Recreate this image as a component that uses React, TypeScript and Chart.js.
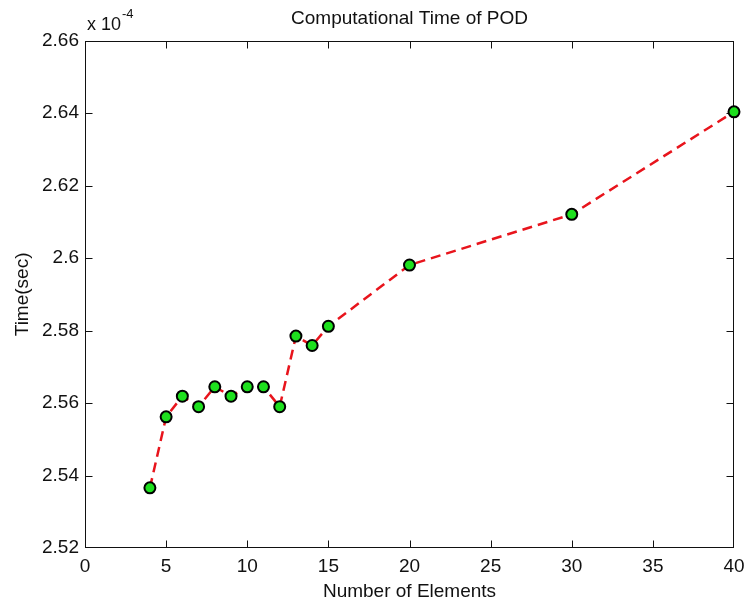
import React, { useEffect, useRef } from "react";
import { Chart, registerables } from "chart.js";

Chart.register(...registerables);

// ---- data ----
const elements = [4, 5, 6, 7, 8, 9, 10, 11, 12, 13, 14, 15, 20, 30, 40];
const timeValues = [
  2.5366, 2.5562, 2.5619, 2.559, 2.5645, 2.5619, 2.5645, 2.5645, 2.559,
  2.5785, 2.5759, 2.5812, 2.5981, 2.6121, 2.6404,
];
const xTickValues = [0, 5, 10, 15, 20, 25, 30, 35, 40];
const yTickValues = [2.52, 2.54, 2.56, 2.58, 2.6, 2.62, 2.64, 2.66];
const chartTitle = "Computational Time of POD";
const xTitle = "Number of Elements";
const yTitle = "Time(sec)";
const exponentBase = "x 10";
const exponentPower = "-4";

const FONT = "'Liberation Sans', Arial, Helvetica, sans-serif";

const framePlugin = {
  id: "matlabFrame",
  beforeDatasetsDraw(chart: any) {
    const { ctx, chartArea, scales } = chart;
    const l = Math.round(chartArea.left) + 0.5;
    const r = Math.round(chartArea.right) - 0.5;
    const t = Math.round(chartArea.top) + 0.5;
    const b = Math.round(chartArea.bottom) - 0.5;
    const len = 7;
    ctx.save();
    ctx.strokeStyle = "#111";
    ctx.lineWidth = 1;
    ctx.strokeRect(l, t, r - l, b - t);
    ctx.beginPath();
    scales.x.ticks.forEach((tk: any) => {
      const px = Math.round(scales.x.getPixelForValue(tk.value)) + 0.5;
      if (px <= l + 1 || px >= r - 1) return;
      ctx.moveTo(px, b);
      ctx.lineTo(px, b - len);
      ctx.moveTo(px, t);
      ctx.lineTo(px, t + len);
    });
    scales.y.ticks.forEach((tk: any) => {
      const py = Math.round(scales.y.getPixelForValue(tk.value)) + 0.5;
      if (py <= t + 1 || py >= b - 1) return;
      ctx.moveTo(l, py);
      ctx.lineTo(l + len, py);
      ctx.moveTo(r, py);
      ctx.lineTo(r - len, py);
    });
    ctx.stroke();
    ctx.restore();
  },
  afterDraw(chart: any) {
    const { ctx, chartArea } = chart;
    ctx.save();
    ctx.fillStyle = "#111";
    ctx.textBaseline = "alphabetic";
    ctx.textAlign = "left";
    ctx.font = `18px ${FONT}`;
    const x0 = chartArea.left + 2;
    const base = chartArea.top - 11;
    ctx.fillText(exponentBase, x0, base);
    const w = ctx.measureText(exponentBase).width;
    ctx.font = `13px ${FONT}`;
    ctx.fillText(exponentPower, x0 + w + 1, base - 12);
    ctx.restore();
  },
};

export default function App() {
  const canvasRef = useRef<HTMLCanvasElement | null>(null);

  useEffect(() => {
    document.body.style.margin = "0";
    const canvas = canvasRef.current;
    if (!canvas) return;
    const chart = new Chart(canvas, {
      type: "line",
      data: {
        datasets: [
          {
            data: elements.map((x, i) => ({ x, y: timeValues[i] })),
            borderColor: "#e8141c",
            borderWidth: 2.5,
            borderDash: [10, 6],
            backgroundColor: "#1ee01e",
            pointBackgroundColor: "#1ee01e",
            pointBorderColor: "#000",
            pointBorderWidth: 2,
            pointRadius: 5.5,
            tension: 0,
            clip: false as any,
          },
        ],
      },
      plugins: [framePlugin],
      options: {
        animation: false,
        responsive: false,
        layout: { padding: { left: 0, right: 12, top: 0, bottom: 0 } },
        plugins: {
          legend: { display: false },
          tooltip: { enabled: false },
          title: {
            display: true,
            text: chartTitle,
            fullSize: false,
            color: "#111",
            font: { family: FONT, size: 19, weight: "normal" },
            padding: { top: 7, bottom: 11 },
          },
        },
        scales: {
          x: {
            type: "linear",
            min: 0,
            max: 40,
            afterBuildTicks: (scale: any) => {
              scale.ticks = xTickValues.map((v) => ({ value: v }));
            },
            afterFit: (scale: any) => {
              scale.height = 57;
              scale.paddingLeft = 0;
              scale.paddingRight = 0;
            },
            grid: { display: false, drawTicks: false },
            border: { display: false },
            ticks: {
              color: "#111",
              padding: 7,
              font: { family: FONT, size: 19 },
              maxRotation: 0,
              autoSkip: false,
            },
            title: {
              display: true,
              text: xTitle,
              color: "#111",
              font: { family: FONT, size: 19 },
              padding: { top: 0, bottom: 2 },
            },
          },
          y: {
            type: "linear",
            min: 2.52,
            max: 2.66,
            afterBuildTicks: (scale: any) => {
              scale.ticks = yTickValues.map((v) => ({ value: v }));
            },
            afterFit: (scale: any) => {
              scale.width = 85;
              scale.paddingTop = 0;
              scale.paddingBottom = 0;
            },
            grid: { display: false, drawTicks: false },
            border: { display: false },
            ticks: {
              color: "#111",
              padding: 6,
              font: { family: FONT, size: 19 },
              autoSkip: false,
              callback: (v: any) => String(Number(Number(v).toFixed(2))),
            },
            title: {
              display: true,
              text: yTitle,
              color: "#111",
              font: { family: FONT, size: 19 },
              padding: { top: 11, bottom: 0 },
            },
          },
        },
      } as any,
    });
    return () => chart.destroy();
  }, []);

  return (
    <div style={{ width: 746, height: 605, background: "#fff" }}>
      <canvas ref={canvasRef} width={746} height={605} />
    </div>
  );
}
